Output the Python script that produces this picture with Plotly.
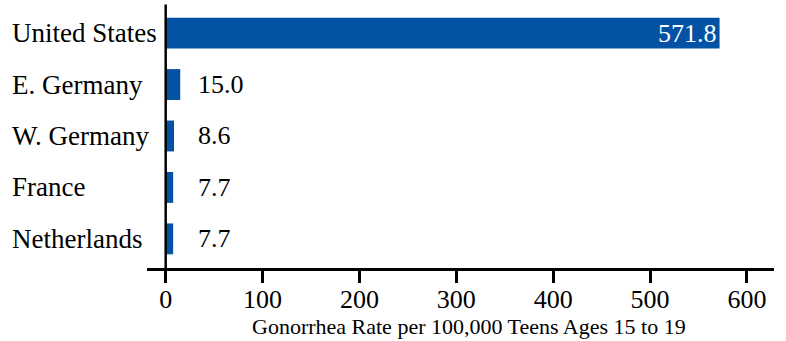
import plotly.graph_objects as go

countries = ["United States", "E. Germany", "W. Germany", "France", "Netherlands"]
rates = [571.8, 15.0, 8.6, 7.7, 7.7]
x_ticks = [0, 100, 200, 300, 400, 500, 600]
x_title = "Gonorrhea Rate per 100,000 Teens Ages 15 to 19"

BAR = "#0452A3"
FONT = "Liberation Serif"

labels_inside = [f"{v:.1f}" if v > 100 else "" for v in rates]

fig = go.Figure()
fig.add_trace(go.Bar(
    x=rates, y=countries, orientation="h",
    marker=dict(color=BAR, line=dict(width=0)),
    text=labels_inside, textposition="inside", insidetextanchor="end",
    textfont=dict(family=FONT, size=26, color="white"),
    constraintext="none", hoverinfo="skip",
))

annotations = []
# outside value labels for the short bars
for c, v in zip(countries, rates):
    if v <= 100:
        annotations.append(dict(x=31, y=c, xref="x", yref="y", text=f"{v:.1f}",
                                showarrow=False, xanchor="left", yanchor="middle",
                                font=dict(family=FONT, size=26, color="black")))
# left-aligned category labels
for c in countries:
    annotations.append(dict(x=-137/627, y=c, xref="paper", yref="y", text=c,
                            showarrow=False, xanchor="left", yanchor="middle",
                            font=dict(family=FONT, size=27, color="black")))
# axis title
annotations.append(dict(x=(468.8 - 147) / 627, y=-0.224, xref="paper", yref="paper",
                        text=x_title, showarrow=False, xanchor="center", yanchor="middle",
                        borderpad=0,
                        font=dict(family=FONT, size=22, color="black")))

fig.update_layout(
    width=786, height=341,
    margin=dict(l=147, r=12, t=7, b=73),
    paper_bgcolor="white", plot_bgcolor="white",
    bargap=0.4, showlegend=False,
    font=dict(family=FONT, color="black"),
    xaxis=dict(range=[-19.3, 628], tickvals=x_ticks, ticks="outside", ticklen=12,
               tickwidth=2.5, tickcolor="black", showline=True, linecolor="black",
               linewidth=2.5, showgrid=False, zeroline=False, ticklabelstandoff=-6,
               tickfont=dict(family=FONT, size=26, color="black")),
    yaxis=dict(range=[4.566, -0.507], showticklabels=False, ticks="", showgrid=False,
               zeroline=False, showline=False),
    annotations=annotations,
    shapes=[dict(type="line", xref="x", yref="paper", x0=0, x1=0, y0=0, y1=1.01,
                 line=dict(color="black", width=2.5))],
)

fig.write_html("out.html")
